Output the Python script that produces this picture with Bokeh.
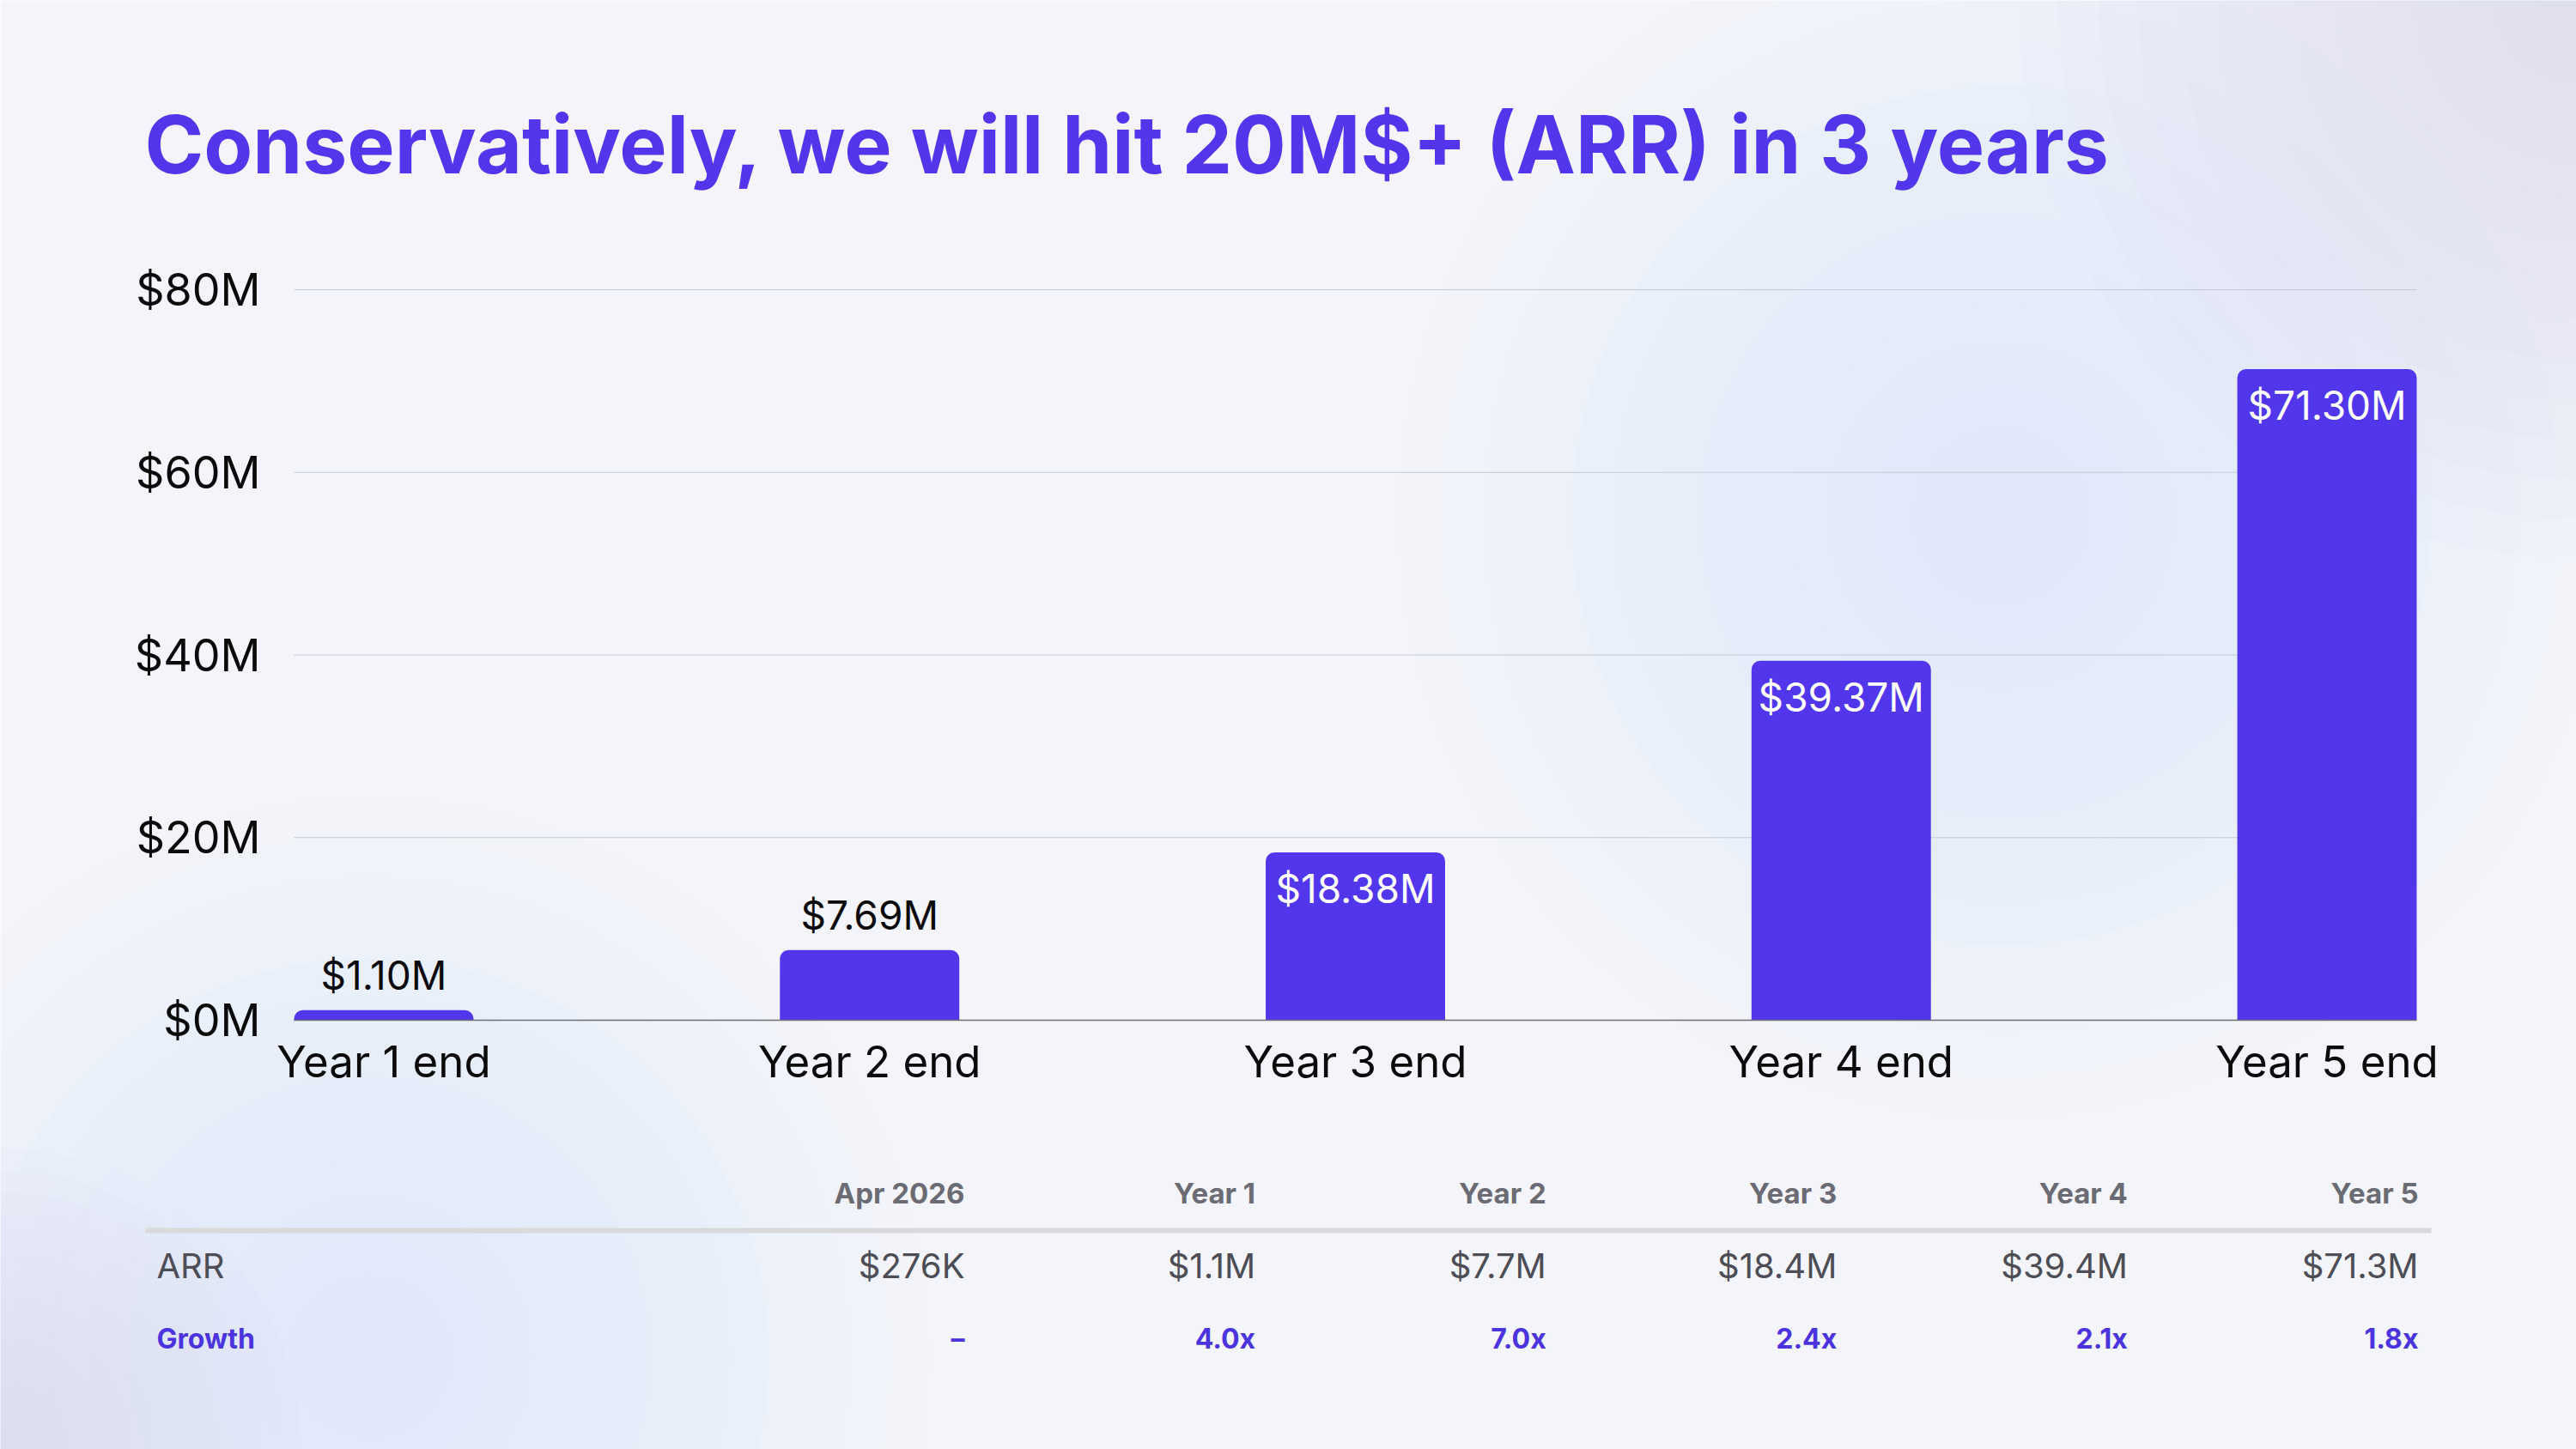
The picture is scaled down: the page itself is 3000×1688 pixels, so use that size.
from bokeh.plotting import figure
from bokeh.models import Range1d, ColumnDataSource
from bokeh.core.properties import value
from bokeh.embed import file_html
from bokeh.resources import INLINE

# ---------------- data ----------------
title_text = "Conservatively, we will hit 20M$+ (ARR) in 3 years"
categories = ["Year 1 end", "Year 2 end", "Year 3 end", "Year 4 end", "Year 5 end"]
arr_musd = [1.10, 7.69, 18.38, 39.37, 71.30]
y_ticks = [0, 20, 40, 60, 80]
y_tick_labels = ["$0M", "$20M", "$40M", "$60M", "$80M"]

table_headers = ["Apr 2026", "Year 1", "Year 2", "Year 3", "Year 4", "Year 5"]
table_arr = ["$276K", "$1.1M", "$7.7M", "$18.4M", "$39.4M", "$71.3M"]
table_growth = ["\u2013", "4.0x", "7.0x", "2.4x", "2.1x", "1.8x"]
row_labels = ["ARR", "Growth"]

# ---------------- style / layout ----------------
W, H = 3000, 1688
BG = "#F4F5FA"
PURPLE = "#5236EC"
GROWTH = "#4B33DE"
INK = "#0A0A0A"
FONT = value("Inter")
FL, FR, FT, FB = 342, 2814, 337, 1188   # plot-area edges in canvas pixels

n = len(categories)
bw = 0.3693
cx0, cx1 = -bw / 2, n - 1 + bw / 2      # category axis extent (plot area)
cy0, cy1 = y_ticks[0], y_ticks[-1]      # value axis extent (plot area)
kx = (cx1 - cx0) / (FR - FL)
ky = (cy1 - cy0) / (FB - FT)


def dx(px):
    return cx0 + (px - FL) * kx


def dy(py):
    return cy0 + (FB - py) * ky


p = figure(width=W, height=H, x_range=Range1d(dx(0), dx(W)), y_range=Range1d(dy(H), dy(0)),
           output_backend="svg", toolbar_location=None,
           x_axis_type=None, y_axis_type=None, min_border=0)
p.background_fill_color = BG
p.border_fill_color = BG
p.outline_line_color = None

# soft background glows (decoration)
glows = [(2330, 600, 700, "#D3DEF4"), (430, 1580, 650, "#D3DEF4"),
         (3000, 0, 650, "#D6D6F2"), (0, 1688, 350, "#D8DCF2")]
rings = 14
for gx, gy, gr, gc in glows:
    p.scatter(x=[dx(gx)] * rings, y=[dy(gy)] * rings,
              size=[2 * gr * (1 - j / rings) for j in range(rings)],
              fill_color=gc, fill_alpha=0.045, line_color=None)

# horizontal grid lines at the value ticks
p.segment(x0=[cx0] * len(y_ticks), x1=[cx1] * len(y_ticks), y0=y_ticks, y1=y_ticks,
          line_color="#C6C8D2", line_width=1.2)

# value-axis tick labels
p.text(x=[dx(303)] * len(y_ticks), y=y_ticks, text=y_tick_labels, text_font=FONT,
       text_font_size="52px", text_color=INK, text_align="right", text_baseline="middle")

# bars + value labels
inside = [v > 10 for v in arr_musd]
src = ColumnDataSource(dict(
    x=list(range(n)),
    top=arr_musd,
    label=[f"${v:.2f}M" for v in arr_musd],
    color=["#FFFFFF" if i else INK for i in inside],
    yoff=[42 if i else -41 for i in inside],
))
p.vbar(x="x", top="top", bottom=0, width=bw, source=src, fill_color=PURPLE,
       line_color=None, border_radius=(10, 10, 0, 0))
p.text(x="x", y="top", text="label", source=src, text_color="color",
       y_offset="yoff", text_font=FONT, text_font_size="46px",
       text_align="center", text_baseline="middle")

# category axis line + labels
p.segment(x0=[cx0], x1=[cx1], y0=[cy0], y1=[cy0], line_color="#6E6E75", line_width=1.5)
p.text(x=list(range(n)), y=[cy0] * n, text=categories, y_offset=48, text_font=FONT,
       text_font_size="51px", text_color=INK, text_align="center", text_baseline="middle")

# title
p.text(x=[dx(168)], y=[dy(167)], text=[title_text], text_font=FONT, text_font_size="93px",
       text_font_style="bold", text_color=PURPLE, text_align="left", text_baseline="middle")

# table
col_x = [dx(1123 + i * 338.6) for i in range(len(table_headers))]
nc = len(col_x)
p.text(x=col_x, y=[dy(1389)] * nc, text=table_headers, text_font=FONT, text_font_size="33px",
       text_font_style="bold", text_color="#6B6B73", text_align="right", text_baseline="middle")
p.segment(x0=[dx(169)], x1=[dx(2831)], y0=[dy(1433)], y1=[dy(1433)],
          line_color="#D9D9DC", line_width=6)
p.text(x=[dx(182)], y=[dy(1474)], text=[row_labels[0]], text_font=FONT, text_font_size="40px",
       text_color="#4D4D55", text_align="left", text_baseline="middle")
p.text(x=col_x, y=[dy(1474)] * nc, text=table_arr, text_font=FONT, text_font_size="40px",
       text_color="#4D4D55", text_align="right", text_baseline="middle")
p.text(x=[dx(182)], y=[dy(1559)], text=[row_labels[1]], text_font=FONT, text_font_size="32px",
       text_font_style="bold", text_color=GROWTH, text_align="left", text_baseline="middle")
p.text(x=col_x, y=[dy(1559)] * nc, text=table_growth, text_font=FONT, text_font_size="32px",
       text_font_style="bold", text_color=GROWTH, text_align="right", text_baseline="middle")

open("out.html", "w").write(file_html(p, INLINE))
